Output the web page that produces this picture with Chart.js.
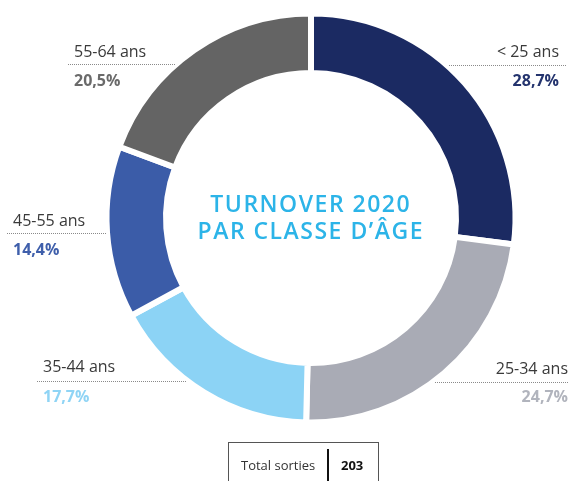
<!DOCTYPE html>
<html lang="fr">
<head>
<meta charset="utf-8">
<title>Turnover 2020 par classe d'âge</title>
<script src="https://cdn.jsdelivr.net/npm/chart.js@4/dist/chart.umd.min.js"></script>
<style>
  html, body { margin: 0; padding: 0; background: #fff; }
  #wrap { position: relative; width: 569px; height: 481px; }
</style>
</head>
<body>
<div id="wrap"><canvas id="chart-turnover" width="569" height="481"></canvas></div>
<script>
const AGE_CLASSES = ['< 25 ans', '25-34 ans', '35-44 ans', '45-55 ans', '55-64 ans'];
const SHARES = [28.7, 24.7, 17.7, 14.4, 20.5];
const SLICE_COLORS = ['#1b2a62', '#a9abb5', '#8cd3f5', '#3b5ca8', '#646464'];
const LABEL_COLORS = ['#24346e', '#b1b4bd', '#8fd4f5', '#3f5fab', '#6a6a6a'];
const TITLE_LINES = ['TURNOVER 2020', 'PAR CLASSE D\u2019ÂGE'];
const TOTAL_LABEL = 'Total sorties';
const TOTAL_VALUE = 203;

const FONT = '"Open Sans", "Noto Sans", sans-serif';

// où placer chaque étiquette (texte + pointillé)
const LABEL_LAYOUT = [
  { align: 'right', x: 559, y: 57, lineFrom: 449, lineTo: 566, lineY: 65, pctY: 86 },
  { align: 'right', x: 568, y: 374, lineFrom: 435, lineTo: 569, lineY: 382, pctY: 402 },
  { align: 'left', x: 43, y: 372, lineFrom: 37, lineTo: 186, lineY: 381, pctY: 402 },
  { align: 'left', x: 13, y: 226, lineFrom: 7, lineTo: 107, lineY: 233, pctY: 255 },
  { align: 'left', x: 74, y: 57, lineFrom: 68, lineTo: 176, lineY: 64, pctY: 86 },
];

const formatPct = (v) => v.toFixed(1).replace('.', ',') + '%';

const labelsPlugin = {
  id: 'sliceLabels',
  afterDraw(chart) {
    const ctx = chart.ctx;
    ctx.save();
    ctx.textBaseline = 'alphabetic';

    LABEL_LAYOUT.forEach((pos, i) => {
      ctx.textAlign = pos.align;
      ctx.font = `400 16px ${FONT}`;
      ctx.fillStyle = '#3a3a3a';
      ctx.fillText(AGE_CLASSES[i], pos.x, pos.y);

      ctx.font = `700 16px ${FONT}`;
      ctx.fillStyle = LABEL_COLORS[i];
      ctx.fillText(formatPct(SHARES[i]), pos.x, pos.pctY);

      ctx.strokeStyle = '#8a8a8a';
      ctx.lineWidth = 1;
      ctx.setLineDash([1, 1]);
      ctx.beginPath();
      ctx.moveTo(pos.lineFrom, pos.lineY + 0.5);
      ctx.lineTo(pos.lineTo, pos.lineY + 0.5);
      ctx.stroke();
    });
    ctx.setLineDash([]);

    // titre au centre
    const meta = chart.getDatasetMeta(0).data[0];
    const cx = meta ? meta.x : 311;
    const spacing = 1.5;
    ctx.textAlign = 'center';
    ctx.font = `600 23px ${FONT}`;
    ctx.letterSpacing = spacing + 'px';
    ctx.fillStyle = '#2cb4e8';
    ctx.fillText(TITLE_LINES[0], cx - 1 + spacing / 2, 212);
    ctx.fillText(TITLE_LINES[1], cx - 1 + spacing / 2, 239);
    ctx.letterSpacing = '0px';

    // encadré total
    ctx.strokeStyle = '#555';
    ctx.lineWidth = 1;
    ctx.strokeRect(228.5, 442.5, 150, 50);
    ctx.fillStyle = '#111';
    ctx.fillRect(327, 449, 2, 40);

    ctx.textAlign = 'left';
    ctx.font = `400 13px ${FONT}`;
    ctx.fillStyle = '#333';
    ctx.fillText(TOTAL_LABEL, 241, 470);
    ctx.font = `700 13px ${FONT}`;
    ctx.fillStyle = '#111';
    ctx.fillText(String(TOTAL_VALUE), 341, 470);

    ctx.restore();
  },
};

new Chart(document.getElementById('chart-turnover'), {
  type: 'doughnut',
  data: {
    labels: AGE_CLASSES,
    datasets: [{
      data: SHARES,
      backgroundColor: SLICE_COLORS,
      borderColor: '#ffffff',
      borderWidth: 6,
      hoverOffset: 0,
    }],
  },
  options: {
    responsive: false,
    animation: false,
    radius: 204.5,
    cutout: '70.9%',
    layout: { padding: { left: 53, right: 0, top: 0, bottom: 45 } },
    plugins: {
      legend: { display: false },
      tooltip: { enabled: false },
    },
    events: [],
  },
  plugins: [labelsPlugin],
});
</script>
</body>
</html>
